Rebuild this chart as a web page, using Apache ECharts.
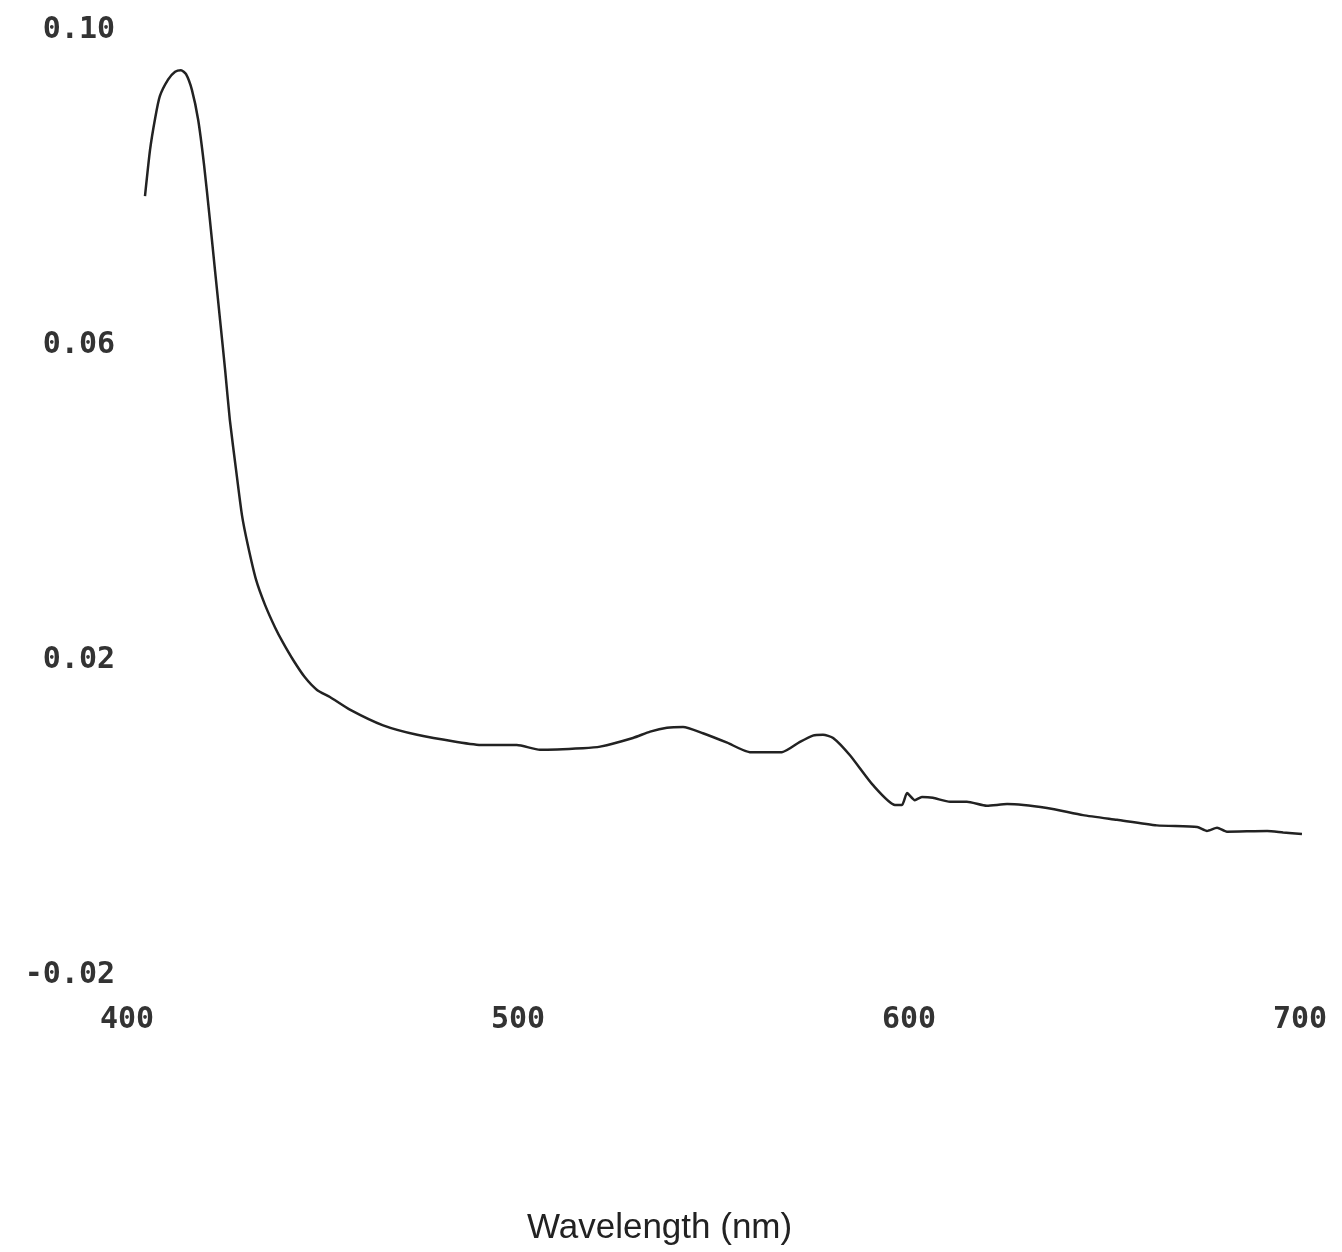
<!DOCTYPE html>
<html>
<head>
<meta charset="utf-8">
<script src="https://cdn.jsdelivr.net/npm/echarts@6/dist/echarts.min.js"></script>
<style>
  html, body { margin: 0; padding: 0; background: #fff; }
  #chart { width: 1342px; height: 1252px; }
</style>
</head>
<body>
<div id="chart"></div>
<script>
// wavelength (nm) and absorbance
var wavelength = [
  404.6, 405.9, 407.2, 408.4, 410.5, 412.3, 413.8, 415.1, 416.6, 418.2,
  419.7, 421.2, 422.5, 423.8, 425.1, 426.3, 427.9, 429.4, 430.9, 433.0,
  435.3, 437.9, 439.9, 442.5, 445.5, 448.6, 451.9, 457.0, 465.5, 474.2,
  484.4, 491.0, 499.7, 505.6, 516.6, 521.0, 529.4, 533.8, 538.1, 542.2,
  547.3, 553.5, 559.3, 567.5, 572.1, 575.4, 578.0, 580.6, 584.9, 590.8,
  596.4, 598.2, 599.5, 601.5, 603.3, 606.1, 610.5, 614.8, 619.9, 625.1,
  635.3, 644.5, 653.2, 663.4, 673.7, 676.2, 678.8, 681.3, 691.6, 695.7,
  700.5
];
var absorbance = [
  0.0789, 0.0848, 0.0888, 0.0916, 0.0937, 0.0947, 0.0949, 0.0944, 0.0924, 0.0886,
  0.0829, 0.0759, 0.0695, 0.0632, 0.0568, 0.0505, 0.0441, 0.0384, 0.0346, 0.0302,
  0.0270, 0.0241, 0.0222, 0.0200, 0.0178, 0.0162, 0.0153, 0.0137, 0.0117, 0.0105,
  0.0096, 0.0092, 0.0092, 0.0086, 0.0088, 0.0090, 0.0101, 0.0109, 0.0114, 0.0115,
  0.0107, 0.0095, 0.0083, 0.0083, 0.0096, 0.0104, 0.0105, 0.0101, 0.0079, 0.0041,
  0.0016, 0.0016, 0.0031, 0.0022, 0.0026, 0.0025, 0.0020, 0.0020, 0.0015, 0.0017,
  0.0012, 0.0003, -0.0003, -0.0010, -0.0012, -0.0017, -0.0013, -0.0018, -0.0017, -0.0019,
  -0.0021
];
var xTicks = [400, 500, 600, 700];
var yTicks = [-0.02, 0.02, 0.06, 0.10];

var points = wavelength.map(function (w, i) { return [w, absorbance[i]]; });

var chart = echarts.init(document.getElementById('chart'));
var labelFont = {
  color: '#333',
  fontFamily: 'DejaVu Sans Mono',
  fontWeight: 'bold',
  fontSize: 30
};

chart.setOption({
  animation: false,
  backgroundColor: '#fff',
  title: {
    text: 'Wavelength (nm)',
    left: 522,
    top: 1206,
    textStyle: {
      fontFamily: 'Liberation Sans',
      fontWeight: 'normal',
      fontSize: 35,
      color: '#222'
    }
  },
  grid: { left: 127, right: 42, top: 30, bottom: 277 },
  xAxis: {
    type: 'value',
    min: 400,
    max: 700,
    axisLine: { show: false },
    axisTick: { show: false },
    splitLine: { show: false },
    axisLabel: Object.assign({ customValues: xTicks, margin: 30 }, labelFont)
  },
  yAxis: {
    type: 'value',
    min: -0.02,
    max: 0.10,
    axisLine: { show: false },
    axisTick: { show: false },
    splitLine: { show: false },
    axisLabel: Object.assign({
      customValues: yTicks,
      margin: 12,
      formatter: function (v) { return v.toFixed(2); }
    }, labelFont)
  },
  series: [{
    type: 'line',
    data: points,
    showSymbol: false,
    smooth: 0.2,
    lineStyle: { color: '#222', width: 2.5 }
  }]
});
</script>
</body>
</html>
